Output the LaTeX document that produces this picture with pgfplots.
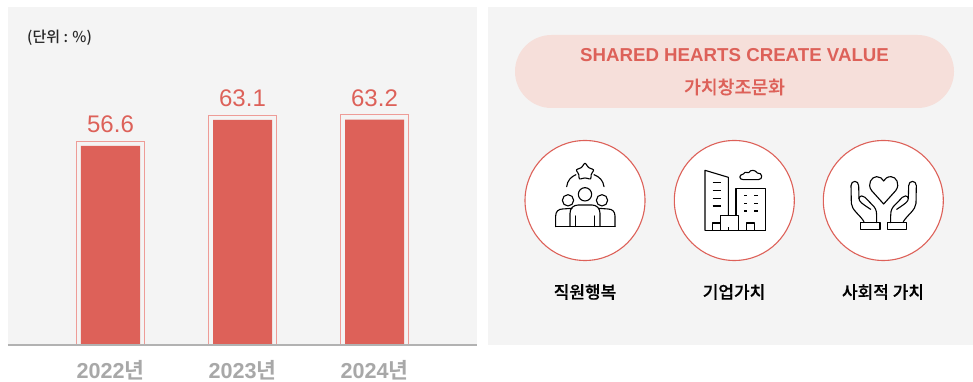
\documentclass[border=0pt]{standalone}
\usepackage{fontspec}
\setmainfont{Noto Sans CJK KR Medium}
\newfontfamily\krs[FakeBold=0.35]{Noto Sans CJK KR Medium}
\newfontfamily\krb{Noto Sans CJK KR Bold}
\newfontfamily\lat{Liberation Sans}
\usepackage{pgfplots}
\pgfplotsset{compat=1.18}
\definecolor{panel}{HTML}{F4F4F4}
\definecolor{red1}{HTML}{DD6159}
\definecolor{red2}{HTML}{EE9C97}
\definecolor{pill}{HTML}{F6DFDA}
\definecolor{tickg}{HTML}{A8A8A8}
\definecolor{axisg}{HTML}{B2B2B2}
\begin{document}
\begin{tikzpicture}[x=1pt,y=1pt]
\useasboundingbox (0,0) rectangle (973,382);
\fill[white] (0,0) rectangle (973,382);
\fill[panel] (8,37) rectangle (477,375);
\fill[panel] (488,37) rectangle (973,375);
\begin{axis}[
  at={(8pt,37pt)},anchor=south west,
  scale only axis,width=469pt,height=338pt,
  xmin=-0.7765,xmax=2.7765,ymin=6.85,ymax=91.35,
  axis x line=bottom,axis y line=none,
  axis line style={-,draw=axisg,line width=1.5pt},
  axis on top,
  xtick={0,1,2},xticklabels={{\lat\bfseries 2022}{\krb 년},{\lat\bfseries 2023}{\krb 년},{\lat\bfseries 2024}{\krb 년}},
  major tick length=0pt,
  xticklabel style={font=\fontsize{21.6}{21.6}\selectfont,text=tickg,inner sep=0pt,text height=16pt,text depth=0pt,yshift=-17.2pt},
]
\addplot[ybar,bar width=68pt,bar shift=0pt,draw=red2,line width=1.1pt,fill=none] coordinates {(0,57.8) (1,64.3) (2,64.4)};
\addplot[ybar,bar width=59pt,bar shift=0pt,draw=none,fill=red1,
  nodes near coords,
  nodes near coords style={anchor=center,yshift=21.5pt,font=\fontsize{24}{24}\selectfont\lat,text=red1,
    /pgf/number format/fixed,/pgf/number format/fixed zerofill,/pgf/number format/precision=1,/pgf/number format/assume math mode=true}]
  coordinates {(0,56.6) (1,63.1) (2,63.2)};
\end{axis}
\node[anchor=west,inner sep=0,text=black!85,font=\fontsize{15}{15}\selectfont] at (27,344.5) {(단위 : \%)};
\fill[pill,rounded corners=36.5pt] (515,274) rectangle (954,347);
\node[text=red1,font=\fontsize{18.7}{18.7}\selectfont\lat\bfseries,inner sep=0] at (734.5,327) {SHARED HEARTS CREATE VALUE};
\node[text=red1,font=\fontsize{18.3}{18.3}\selectfont\krs,inner sep=0] at (734.5,295) {가치창조문화};
\foreach \cx in {585,734.3,883.3}{\draw[red1,fill=white,line width=1.1pt] (\cx,181.5) circle (60);}
\node[font=\fontsize{17}{17}\selectfont\krs,inner sep=0] at (585,90) {직원행복};
\node[font=\fontsize{17}{17}\selectfont\krs,inner sep=0] at (734,90) {기업가치};
\node[font=\fontsize{17}{17}\selectfont\krs,inner sep=0] at (883,90) {사회적 가치};
% icon 1
\begin{scope}[shift={(510,252)},x=0.3333pt,y=-0.3333pt,line width=1.1pt,black,line join=round,line cap=round]
\draw[rounded corners=3pt] (225,95)--(235,115)--(255,118)--(241,134)--(245,150)--(225,142)--(205,150)--(209,134)--(195,118)--(215,115)--cycle;
\draw (170,170) .. controls (172,152) and (183,140) .. (198,134);
\draw (282,170) .. controls (280,152) and (268,140) .. (252,134);
\draw (174,211) circle (17*0.3333pt);
\draw (276,211) circle (17*0.3333pt);
\draw (225,193) circle (20*0.3333pt);
\draw (180,290) -- (180,250) .. controls (180,235) and (190,225) .. (205,225) -- (246,225) .. controls (260,225) and (270,235) .. (270,250) -- (270,290);
\draw (197,258)--(197,290) (253,258)--(253,290);
\draw (137,290)--(137,258) .. controls (137,245) and (145,237) .. (158,237) -- (186,235);
\draw (315,290)--(315,258) .. controls (315,245) and (307,237) .. (294,237) -- (266,235);
\draw (137,290)--(315,290);
\end{scope}
% icon 2
\begin{scope}[shift={(660,252)},x=0.3333pt,y=-0.3333pt,line width=1.1pt,black,line join=round]
\draw (135,302)--(135,121)--(205,142)--(205,257);
\draw (158,158)--(183,158) (158,182)--(183,182) (158,205)--(183,205) (158,228)--(183,228);
\draw (228,257)--(228,175)--(316,175)--(316,302);
\draw (135,302)--(316,302);
\draw (182,302)--(182,257)--(235,257)--(235,302);
\draw (158,302)--(158,279)--(182,279);
\draw (260,302)--(260,279)--(284,279)--(284,302);
\draw (205,302)--(205,290);
\foreach \yy in {197,220,243}{\draw (252,\yy)--(262,\yy) (283,\yy)--(293,\yy);}
\draw (250,149)--(295,149) .. controls (310,149) and (308,127) .. (292,129) .. controls (285,119) and (272,118) .. (266,128) .. controls (258,124) and (250,128) .. (250,132) .. controls (236,134) and (236,149) .. (250,149);
\end{scope}
% icon 3
\begin{scope}[shift={(810,252)},x=0.3333pt,y=-0.3333pt,line width=1.1pt,black,line join=round,line cap=round]
\draw (221,222) -- (185,182) .. controls (170,162) and (185,140) .. (200,140) .. controls (210,140) and (218,146) .. (221,153) .. controls (224,146) and (232,140) .. (243,140) .. controls (258,140) and (272,162) .. (257,182) -- cycle;
\foreach \m/\o in {1/0,-1/442}{
\begin{scope}[xshift=\o*0.3333pt,xscale=\m]
\draw (152,278) rectangle (210,298);
\draw (162,275) .. controls (150,255) and (125,240) .. (124,220) -- (123,167) .. controls (123,150) and (146,150) .. (146,167) -- (147,205);
\draw (147,205) .. controls (150,195) and (160,197) .. (165,202) -- (192,230) .. controls (200,240) and (200,250) .. (200,258) -- (200,278);
\draw (147,205) .. controls (147,215) and (155,220) .. (182,238);
\end{scope}}
\end{scope}
\end{tikzpicture}
\end{document}
